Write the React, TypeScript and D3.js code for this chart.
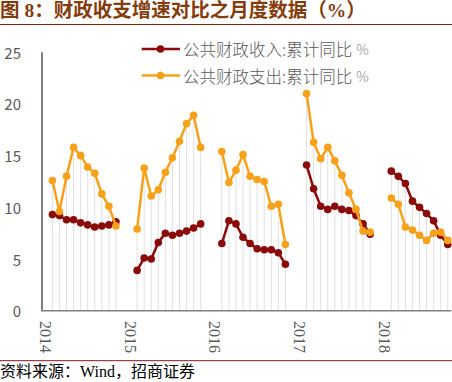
import React from "react";
import * as d3 from "d3";

const years = [2014, 2015, 2016, 2017, 2018];
// number of monthly points plotted in each year
const pointsPerYear = [10, 10, 10, 10, 9];

const revenue = [
  9.3, 9.2, 8.8, 8.8, 8.5, 8.3, 8.1, 8.2, 8.3, 8.6,
  3.9, 5.1, 5.0, 6.6, 7.5, 7.3, 7.5, 7.7, 8.0, 8.4,
  6.5, 8.7, 8.4, 7.1, 6.5, 6.0, 5.9, 5.9, 5.6, 4.5,
  14.1, 11.8, 10.1, 9.8, 10.1, 9.8, 9.7, 9.2, 8.4, 7.4,
  13.5, 13.0, 12.3, 10.6, 10.0, 9.4, 8.7, 7.3, 6.4,
];

const expenditure = [
  12.6, 9.6, 13.0, 15.8, 15.0, 13.9, 13.3, 11.3, 10.1, 8.2,
  7.9, 13.8, 11.1, 11.7, 13.4, 14.8, 16.4, 18.1, 18.9, 15.8,
  15.4, 12.4, 13.6, 15.1, 13.0, 12.7, 12.5, 10.1, 10.3, 6.4,
  21.0, 16.3, 14.7, 15.8, 14.5, 13.1, 11.4, 9.8, 7.7, 7.6,
  10.9, 10.3, 8.1, 7.8, 7.3, 6.8, 7.5, 7.6, 6.8,
];

const yTicks = [0, 5, 10, 15, 20, 25];
const seriesNames = ["公共财政收入:累计同比", "公共财政支出:累计同比"];
const title = "图 8：财政收支增速对比之月度数据（%）";
const source = "资料来源：Wind，招商证券";

const RED = "#8B0A0A";
const ORANGE = "#F7A01A";

type Pt = { slot: number; v: number };

function buildSeries(values: number[]): Pt[][] {
  const segs: Pt[][] = [];
  let k = 0;
  years.forEach((_, yi) => {
    const seg: Pt[] = [];
    for (let i = 0; i < pointsPerYear[yi]; i++) {
      seg.push({ slot: yi * 12 + i + 1, v: values[k++] });
    }
    segs.push(seg);
  });
  return segs;
}

export default function App() {
  const W = 452;
  const H = 382;
  const x = d3.scaleLinear().domain([-0.5, 57.5]).range([41.8, 451.3]);
  const y = d3.scaleLinear().domain([0, 25]).range([310.7, 52.3]);
  const line = d3
    .line<Pt>()
    .x((d) => x(d.slot))
    .y((d) => y(d.v));

  const revSegs = buildSeries(revenue);
  const expSegs = buildSeries(expenditure);

  const drops: { slot: number; top: number }[] = [];
  revSegs.forEach((seg, si) =>
    seg.forEach((p, i) => {
      drops.push({ slot: p.slot, top: Math.max(p.v, expSegs[si][i].v) });
    })
  );

  const sans = "'Noto Sans CJK SC', 'Noto Sans', sans-serif";
  const serif = "'Liberation Serif', 'Noto Sans CJK SC', serif";

  return (
    <svg
      width={W}
      height={H}
      style={{ position: "absolute", left: 0, top: 0, display: "block", background: "#fff" }}
    >
      {/* title */}
      <text x={0} y={17} fontFamily={serif} fontWeight="bold" fontSize={19.5} fill="#843C0C">
        {title}
      </text>
      <line x1={0} x2={W} y1={24.5} y2={24.5} stroke="#7B2A0E" strokeWidth={1} />

      {/* drop lines */}
      {drops.map((d, i) => (
        <line
          key={"dl" + i}
          x1={x(d.slot)}
          x2={x(d.slot)}
          y1={y(d.top)}
          y2={y(0)}
          stroke="#E0E0E0"
          strokeWidth={1}
        />
      ))}

      {/* axes */}
      <line x1={42} x2={42} y1={y(25)} y2={y(0)} stroke="#808080" strokeWidth={2} />
      <line x1={41} x2={451.3} y1={y(0)} y2={y(0)} stroke="#808080" strokeWidth={1.5} />

      {yTicks.map((t) => (
        <text
          key={"yt" + t}
          x={21}
          y={y(t)}
          textAnchor="end"
          dominantBaseline="central"
          fontFamily={sans}
          fontSize={15}
          fill="#595959"
        >
          {t}
        </text>
      ))}

      {years.map((yr, yi) => (
        <text
          key={"xt" + yr}
          transform={`translate(${x(yi * 12)},${321}) rotate(90)`}
          textAnchor="start"
          dominantBaseline="central"
          fontFamily={serif}
          fontSize={16}
          fill="#595959"
        >
          {yr}
        </text>
      ))}

      {/* series */}
      {[
        { segs: revSegs, color: RED },
        { segs: expSegs, color: ORANGE },
      ].map((s, si) => (
        <g key={"s" + si}>
          {s.segs.map((seg, j) => (
            <path key={"p" + j} d={line(seg) || ""} fill="none" stroke={s.color} strokeWidth={2.5} />
          ))}
          {s.segs.flat().map((p, j) => (
            <circle key={"c" + j} cx={x(p.slot)} cy={y(p.v)} r={3.8} fill={s.color} />
          ))}
        </g>
      ))}

      {/* legend */}
      {seriesNames.map((name, i) => {
        const ly = 49 + i * 26.5;
        const color = i === 0 ? RED : ORANGE;
        return (
          <g key={"lg" + i}>
            <line x1={141.7} x2={180} y1={ly} y2={ly} stroke={color} strokeWidth={2.5} />
            <circle cx={160.5} cy={ly} r={3.8} fill={color} />
            <text
              x={183}
              y={ly}
              dominantBaseline="central"
              fontFamily={sans}
              fontSize={16.5}
              fontWeight={300}
              fill="#595959"
            >
              {name}
              <tspan fill="#8c8c8c" fontSize={14} dx={4}>
                %
              </tspan>
            </text>
          </g>
        );
      })}

      {/* source */}
      <line x1={0} x2={W} y1={360.7} y2={360.7} stroke="#7B1A1A" strokeWidth={1} />
      <text x={0} y={377} fontFamily={serif} fontSize={16} fill="#000">
        {source}
      </text>
    </svg>
  );
}
